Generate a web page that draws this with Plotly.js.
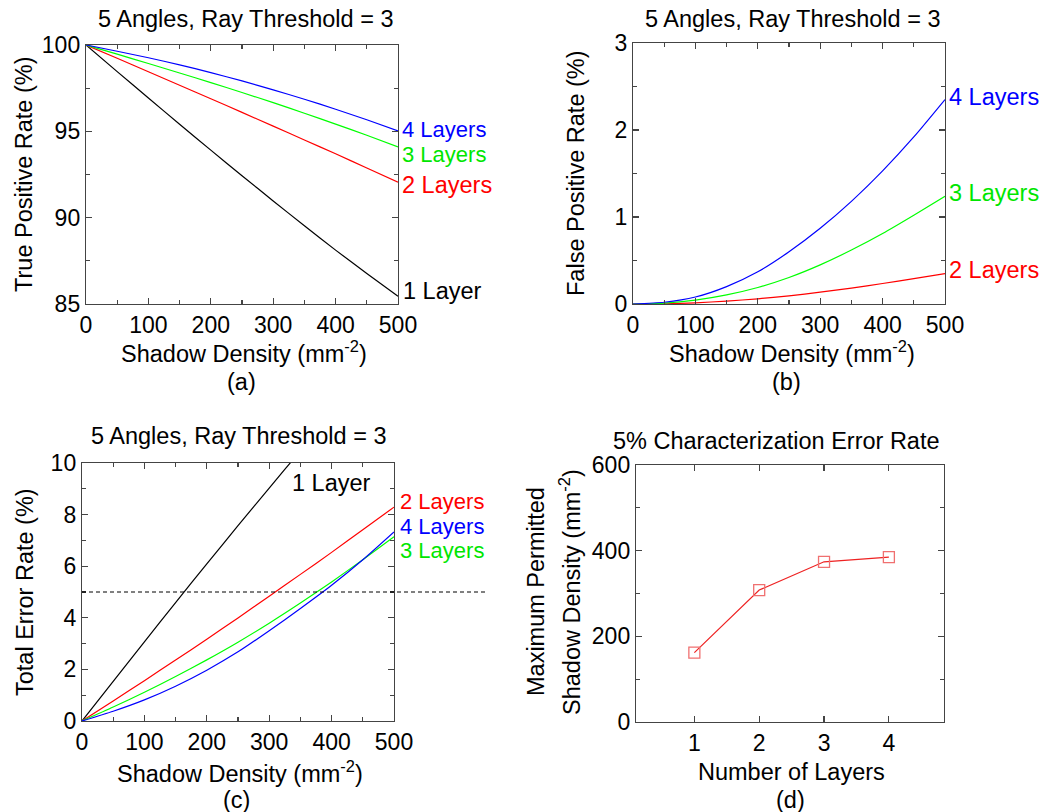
<!DOCTYPE html>
<html>
<head>
<meta charset="utf-8">
<script src="https://cdn.plot.ly/plotly-3.0.1.min.js"></script>
<style>html,body{margin:0;padding:0;background:#fff;}#chart{width:1050px;height:812px;}</style>
</head>
<body>
<div id="chart"></div>
<script>
// ---- data ----
const density = [0, 50, 100, 150, 200, 250, 300, 350, 400, 450, 500];

// (a) true positive rate (%)
const tpr1 = [100, 98.46, 96.93, 95.41, 93.91, 92.43, 90.97, 89.53, 88.12, 86.77, 85.45];
const tpr2 = [100, 99.23, 98.45, 97.67, 96.89, 96.10, 95.30, 94.50, 93.70, 92.88, 92.06];
const tpr3 = [100, 99.47, 98.93, 98.38, 97.82, 97.25, 96.66, 96.05, 95.42, 94.77, 94.10];
const tpr4 = [100, 99.64, 99.26, 98.85, 98.40, 97.92, 97.40, 96.86, 96.28, 95.67, 95.02];

// (b) false positive rate (%)
const fpr2 = [0, 0.003, 0.014, 0.033, 0.060, 0.094, 0.136, 0.183, 0.236, 0.292, 0.350];
const fpr3 = [0, 0.010, 0.045, 0.105, 0.190, 0.305, 0.450, 0.620, 0.810, 1.020, 1.238];
const fpr4 = [0, 0.020, 0.080, 0.200, 0.370, 0.600, 0.870, 1.180, 1.530, 1.920, 2.350];

// (c) total error rate (%)
const ter1 = [0, 1.54, 3.07, 4.59, 6.09, 7.57, 9.03, 10.47, 11.88, 13.23, 14.55];
const ter2 = [0, 0.773, 1.564, 2.363, 3.170, 3.994, 4.836, 5.683, 6.536, 7.412, 8.290];
const ter3 = [0, 0.540, 1.115, 1.725, 2.370, 3.055, 3.790, 4.570, 5.390, 6.250, 7.138];
const ter4 = [0, 0.380, 0.820, 1.350, 1.970, 2.680, 3.500, 4.360, 5.260, 6.250, 7.330];
const errorThreshold = 5;

// (d) maximum permitted shadow density at 5% error
const layers = [1, 2, 3, 4];
const maxDensity = [162, 308, 374, 385];

const layerNames = ['1 Layer', '2 Layers', '3 Layers', '4 Layers'];
const panelTitle = '5 Angles, Ray Threshold = 3';
const panelTitleD = '5% Characterization Error Rate';
const xTitle = 'Shadow Density (mm<sup>-2</sup>)';

// ---- styling ----
const W = 1050, H = 812;
const FONT = 'Liberation Sans, Arial, sans-serif';
const FS = 23.5;
const FL = 22;
const AX = '#444';
const cBlack = '#000000', cRed = '#ff0000', cGreen = '#00ff00', cBlue = '#0000ff';
const tGreen = '#00e600';
const px = v => v / W;
const py = v => 1 - v / H;

function line(x, y, color, xa, ya) {
  return {x: x, y: y, xaxis: xa, yaxis: ya, type: 'scatter', mode: 'lines',
    line: {color: color, width: 1.2, shape: 'spline', smoothing: 0.6}, showlegend: false, hoverinfo: 'skip'};
}

const traces = [
  line(density, tpr1, cBlack, 'x', 'y'),
  line(density, tpr2, cRed, 'x', 'y'),
  line(density, tpr3, cGreen, 'x', 'y'),
  line(density, tpr4, cBlue, 'x', 'y'),
  line(density, fpr2, cRed, 'x2', 'y2'),
  line(density, fpr3, cGreen, 'x2', 'y2'),
  line(density, fpr4, cBlue, 'x2', 'y2'),
  line(density, ter1, cBlack, 'x3', 'y3'),
  line(density, ter2, cRed, 'x3', 'y3'),
  line(density, ter3, cGreen, 'x3', 'y3'),
  line(density, ter4, cBlue, 'x3', 'y3'),
  {x: layers, y: maxDensity, xaxis: 'x4', yaxis: 'y4', type: 'scatter', mode: 'lines+markers',
    line: {color: '#ee2222', width: 1.2},
    marker: {symbol: 'square-open', size: 11, color: '#f07070', line: {width: 1.3, color: '#f07070'}},
    showlegend: false, hoverinfo: 'skip', cliponaxis: false}
];

function axis(domain, range, dtick, minorDtick, anchor, extra) {
  const a = {
    domain: domain, range: range, anchor: anchor, dtick: dtick, tick0: 0,
    showline: true, linecolor: AX, linewidth: 1.2, mirror: 'ticks',
    ticks: 'inside', ticklen: 6, tickwidth: 1.2, tickcolor: AX,
    showgrid: false, zeroline: false, fixedrange: true,
    tickfont: {family: FONT, size: 23, color: '#000'},
    minor: minorDtick ? {dtick: minorDtick, ticks: 'inside', ticklen: 4, tickwidth: 1.2, tickcolor: AX, showgrid: false} : undefined
  };
  return Object.assign(a, extra || {});
}

const dA = {x: [px(86), px(398)], y: [py(304), py(45)]};
const dB = {x: [px(633), px(945)], y: [py(304), py(43)]};
const dC = {x: [px(82), px(394)], y: [py(721), py(463)]};
const dD = {x: [px(636), px(944)], y: [py(722), py(465)]};

function ann(text, x, y, opts) {
  return Object.assign({text: text, x: px(x), y: py(y), xref: 'paper', yref: 'paper',
    showarrow: false, xanchor: 'center', yanchor: 'middle',
    font: {family: FONT, size: FS, color: '#000'}}, opts || {});
}
function lab(text, x, y, color, size) {
  return ann(text, x, y, {xanchor: 'left', font: {family: FONT, size: size || FS, color: color}});
}
function ytitle(text, x, y) {
  return ann(text, x, y, {textangle: -90});
}

const annotations = [
  // (a)
  ann(panelTitle, 245, 19),
  ytitle('True Positive Rate (%)', 24, 174),
  ann(xTitle, 244, 352),
  ann('(a)', 241, 382),
  lab(layerNames[3], 400, 130, cBlue, FL),
  lab(layerNames[2], 400, 155, tGreen, FL),
  lab(layerNames[1], 400, 185, cRed),
  lab(layerNames[0], 401, 291, cBlack),
  // (b)
  ann(panelTitle, 792, 19),
  ytitle('False Positive Rate (%)', 576, 173),
  ann(xTitle, 792, 352),
  ann('(b)', 786, 382),
  lab(layerNames[3], 947, 97, cBlue),
  lab(layerNames[2], 947, 193, tGreen),
  lab(layerNames[1], 947, 270, cRed),
  // (c)
  ann(panelTitle, 238, 436),
  ytitle('Total Error Rate (%)', 25, 592),
  ann(xTitle, 240, 772),
  ann('(c)', 236, 800),
  lab(layerNames[0], 290, 483, cBlack),
  lab(layerNames[1], 398, 501, cRed, FL),
  lab(layerNames[3], 398, 526, cBlue, FL),
  lab(layerNames[2], 398, 550, tGreen, FL),
  // (d)
  ann(panelTitleD, 776, 441),
  ytitle('Maximum Permitted', 536, 592),
  ytitle('Shadow Density (mm<sup>-2</sup>)', 570, 592),
  ann('Number of Layers', 791, 772),
  ann('(d)', 790, 800)
];

const layout = {
  width: W, height: H,
  margin: {l: 0, r: 0, t: 0, b: 0},
  paper_bgcolor: '#fff', plot_bgcolor: '#fff',
  font: {family: FONT, size: FS, color: '#000'},
  showlegend: false,
  xaxis: axis(dA.x, [0, 500], 100, 50, 'y'),
  yaxis: axis(dA.y, [85, 100], 5, 2.5, 'x'),
  xaxis2: axis(dB.x, [0, 500], 100, 50, 'y2'),
  yaxis2: axis(dB.y, [0, 3], 1, 0.5, 'x2'),
  xaxis3: axis(dC.x, [0, 500], 100, 50, 'y3'),
  yaxis3: axis(dC.y, [0, 10], 2, 1, 'x3'),
  xaxis4: axis(dD.x, [0.1, 4.85], 1, null, 'y4', {tick0: 1, tickvals: layers}),
  yaxis4: axis(dD.y, [0, 600], 200, 100, 'x4'),
  annotations: annotations,
  shapes: [
    {type: 'line', xref: 'x3 domain', yref: 'y3', x0: 0, x1: 1.30, y0: errorThreshold, y1: errorThreshold,
     line: {color: '#000', width: 1, dash: '4px,3px'}}
  ]
};

Plotly.newPlot('chart', traces, layout, {staticPlot: true, displayModeBar: false});
</script>
</body>
</html>
